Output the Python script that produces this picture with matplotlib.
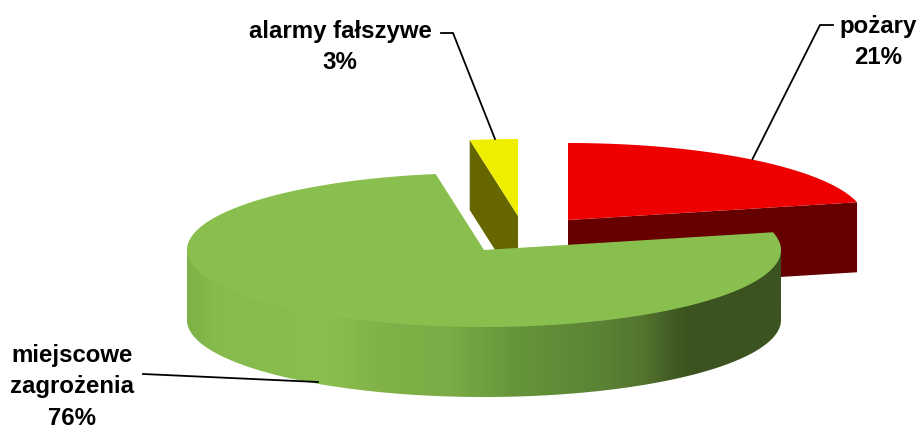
import numpy as np
import matplotlib
matplotlib.use("Agg")
import matplotlib.pyplot as plt
from matplotlib.colors import LinearSegmentedColormap
from matplotlib.patches import Polygon

# --- data ---
categories = ["pożary", "miejscowe\nzagrożenia", "alarmy fałszywe"]
shares = [21.3, 76.1, 2.6]

# --- style / layout (pixel space of the figure) ---
W, H = 921, 429
RX, RY, DEPTH = 297, 77, 70
centres = [(568, 220), (484, 250), (518, 216)]
top_colors = ["#EE0000", "#89BF4F", "#EEEE00"]
side_colors = ["#660000", None, "#666600"]
label_pos = [(878, 42), (72, 387), (340, 47)]
leaders = [
    [(752.5, 159), (820, 25), (833, 25)],
    [(143, 374), (318, 382)],
    [(441, 33), (453, 33), (495, 139)],
]
grad_stops = [(187, "#7DB247"), (215, "#86BC4D"), (330, "#89BF4F"), (380, "#81B248"),
              (450, "#7AAB45"), (520, "#659439"), (600, "#5B8335"), (645, "#53732F"),
              (675, "#3F5A22"), (695, "#3B5320"), (781, "#3B5320")]

fig = plt.figure(figsize=(W / 100, H / 100), dpi=100)
ax = fig.add_axes([0, 0, 1, 1])
ax.set_xlim(0, W)
ax.set_ylim(H, 0)
ax.axis("off")


def rim(centre, t0, t1, dy=0, n=240):
    t = np.radians(np.linspace(t0, t1, n))
    return np.column_stack([centre[0] + RX * np.sin(t), centre[1] - RY * np.cos(t) + dy])


def radial_face(centre, t):
    p = rim(centre, t, t, n=1)[0]
    c = np.array(centre, float)
    d = np.array([0, DEPTH])
    return np.array([c, p, p + d, c + d])


edges = np.cumsum([0] + [s * 3.6 for s in shares])
spans = list(zip(edges[:-1], edges[1:]))

# Back slices: visible cut faces, then tops
red_span, green_span, yellow_span = spans
ax.add_patch(Polygon(radial_face(centres[2], yellow_span[0]), fc=side_colors[2], ec="none", zorder=1))
ax.add_patch(Polygon(np.vstack([[centres[2]], rim(centres[2], *yellow_span)]), fc=top_colors[2], ec="none", zorder=2))
ax.add_patch(Polygon(radial_face(centres[0], red_span[1]), fc=side_colors[0], ec="none", zorder=1))
ax.add_patch(Polygon(np.vstack([[centres[0]], rim(centres[0], *red_span)]), fc=top_colors[0], ec="none", zorder=2))

# Green slice: gradient rim (lower edge smoothed by a white mask), then top
lo, hi = grad_stops[0][0], grad_stops[-1][0]
cy = centres[1][1]
floor = cy + RY + DEPTH + 2
bottom = rim(centres[1], 90, 270, dy=DEPTH)
cmap = LinearSegmentedColormap.from_list("rim", [((x - lo) / (hi - lo), c) for x, c in grad_stops], N=512)
ax.imshow(np.linspace(0, 1, 600)[None, :], cmap=cmap, aspect="auto",
          extent=(lo, hi - 0.5, floor, cy), zorder=3, interpolation="bilinear")
mask = np.vstack([[[hi + 3, cy + DEPTH]], bottom, [[lo - 3, cy + DEPTH], [lo - 3, floor + 3], [hi + 3, floor + 3]]])
ax.add_patch(Polygon(mask, fc="white", ec="none", zorder=3.5))
ax.add_patch(Polygon(np.vstack([[centres[1]], rim(centres[1], *green_span)]), fc=top_colors[1], ec="none", zorder=4))
ax.set_xlim(0, W)
ax.set_ylim(H, 0)

# Leader lines and labels
for pts in leaders:
    xs, ys = zip(*pts)
    ax.plot(xs, ys, color="black", lw=1.3, zorder=5, solid_joinstyle="miter")
for name, share, (x, y) in zip(categories, shares, label_pos):
    ax.text(x, y, f"{name}\n{share:.0f}%", ha="center", va="center", ma="center",
            family="Liberation Sans", weight="bold", fontsize=17.3, color="black",
            linespacing=1.47, zorder=6, clip_on=False)

fig.savefig("out.png", dpi=100)
